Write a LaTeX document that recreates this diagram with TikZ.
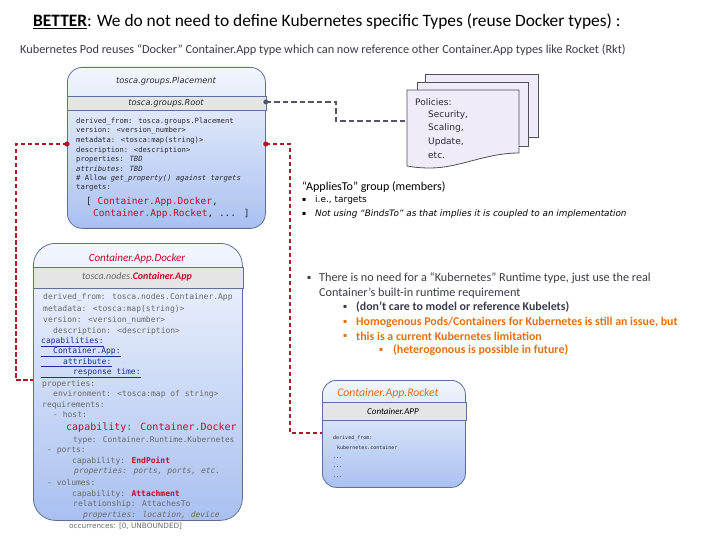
\documentclass[tikz,border=0pt]{standalone}
\usepackage{fontspec}
\setmainfont{Carlito}
\newfontfamily\code{DejaVu Sans Mono}
\newfontfamily\dv{DejaVu Sans}
\usetikzlibrary{calc}
\definecolor{boxedge}{HTML}{5E7099}
\definecolor{boxtop}{HTML}{F3F6FD}
\definecolor{boxbot}{HTML}{A9C0F0}
\definecolor{bandgray}{HTML}{E5E5E5}
\definecolor{redc}{HTML}{C00A2A}
\definecolor{redline}{HTML}{B01828}
\definecolor{grayline}{HTML}{55556A}
\definecolor{orangec}{HTML}{E4700F}
\definecolor{darktxt}{HTML}{3A3A4C}
\definecolor{codegray}{HTML}{686868}
\definecolor{codedark}{HTML}{2A2A30}
\definecolor{ulblue}{HTML}{1B2C9E}
\definecolor{pagefill}{HTML}{EFECF8}
\definecolor{pageedge}{HTML}{505058}
\newcommand\fsz[1]{\fontsize{#1}{#1}\selectfont}
\tikzset{
  txt/.style={inner sep=0pt, anchor=west},
  ctr/.style={inner sep=0pt, anchor=center},
  boxnode/.style={draw=boxedge, line width=0.8pt, top color=boxtop, bottom color=boxbot, anchor=north west, inner sep=0pt},
  band/.style={draw=boxedge, line width=0.6pt, fill=bandgray},
  reddash/.style={draw=redline, line width=1.8pt, dash pattern=on 4.5pt off 2.5pt},
  graydash/.style={draw=grayline, line width=1.8pt, dash pattern=on 5.5pt off 3pt},
  pcode/.style={txt, font=\code\fsz{7.2}, text=codedark},
  dcode/.style={txt, font=\code\fsz{8}, text=codegray},
  rcode/.style={txt, font=\code\fsz{5}, text=codedark},
  page/.style={draw=pageedge, line width=0.8pt, fill=pagefill},
  poltxt/.style={txt, font=\dv\fsz{9}, text=codedark}
}
\begin{document}
\begin{tikzpicture}[x=1pt,y=-1pt]
\useasboundingbox (0,0) rectangle (720,540);
% titles
\node[txt] (title) at (33,22) {\fsz{17.4}\underline{\textbf{BETTER}}: We do not need to define Kubernetes specific Types (reuse Docker types) :};
\node[txt, text=darktxt] (sub) at (20,50) {\fsz{12.3}Kubernetes Pod reuses “Docker” Container.App type which can now reference other Container.App types like Rocket (Rkt)};

% ---------- Placement box
\node[boxnode, rounded corners=15pt, minimum width=198pt, minimum height=161pt] (place) at (67,67) {};
\filldraw[band] (place.west |- 0,96) rectangle (place.east |- 0,110);
\node[ctr, font=\dv\itshape\fsz{8.3}, text=codedark] (placet) at (166,81) {tosca.groups.Placement};
\node[ctr, font=\dv\itshape\fsz{8.3}, text=codedark] (placeb) at (166,103) {tosca.groups.Root};
\node[pcode] (p1) at (76,122) {derived\_from: tosca.groups.Placement};
\node[pcode] (p2) at (76,131) {version: <version\_number>};
\node[pcode] (p3) at (76,141) {metadata: <tosca:map(string)>};
\node[pcode] (p4) at (76,151) {description: <description>};
\node[pcode] (p5) at (76,160) {properties: \textit{TBD}};
\node[pcode] (p6) at (76,169) {\textit{attributes}: \textit{TBD}};
\node[pcode] (p7) at (76,179) {\# Allow \textit{get\_property() against targets}};
\node[pcode] (p8) at (76,188) {targets:};
\node[pcode, font=\code\fsz{9.5}] (p9) at (86,202) {[ \textcolor{redc}{Container.App.Docker},};
\node[pcode, font=\code\fsz{9.5}] (p10) at (93,214) {\textcolor{redc}{Container.App.Rocket}, ... ]};

% ---------- Docker box
\node[boxnode, rounded corners=22pt, minimum width=209pt, minimum height=277pt] (dock) at (33,243) {};
\filldraw[band] (dock.west |- 0,267) rectangle (dock.east |- 0,288);
\node[ctr, font=\itshape\fsz{11}, text=redc] (dockt) at (137,259) {Container.App.Docker};
\node[ctr, font=\itshape\fsz{10}, text=codegray] (dockb) at (137,277) {tosca.nodes.\textcolor{redc}{\textbf{Container.App}}};
\node[dcode] (d1) at (43,297) {derived\_from: tosca.nodes.Container.App};
\node[dcode] (d2) at (43,309) {metadata: <tosca:map(string)>};
\node[dcode] (d3) at (43,320) {version: <version\_number>};
\node[dcode] (d4) at (53,331) {description: <description>};
\node[dcode, text=ulblue] (u1) at (41,341) {capabilities:};
\node[dcode, text=ulblue] (u2) at (41,351) {\hspace*{12pt}Container.App:};
\node[dcode, text=ulblue] (u3) at (41,362) {\hspace*{22pt}attribute:};
\node[dcode, text=ulblue] (u4) at (41,372) {\hspace*{32pt}response time:};
\foreach \u in {u1,u2,u3,u4} \draw[ulblue, line width=1.3pt] ([yshift=-1.2pt]\u.south west) -- ([yshift=-1.2pt]\u.south east);
\node[dcode] (d5) at (42,384) {properties:};
\node[dcode] (d6) at (53,394) {environment: <tosca:map of string>};
\node[dcode] (d7) at (42,405) {requirements:};
\node[dcode] (d8) at (53,415) {- host:};
\node[dcode, font=\code\fsz{10}, text=redc] (d9) at (66,428) {capability: Container.Docker};
\node[dcode, font=\code\fsz{7.8}] (d10) at (73,440) {type: Container.Runtime.Kubernetes};
\node[dcode] (d11) at (47,451) {- ports:};
\node[dcode] (d12) at (72,461) {capability: \textcolor{redc}{\textbf{EndPoint}}};
\node[dcode] (d13) at (74,471) {\textit{properties: ports, ports, etc.}};
\node[dcode] (d14) at (47,482) {- volumes:};
\node[dcode] (d15) at (72,494) {capability: \textcolor{redc}{\textbf{Attachment}}};
\node[dcode] (d16) at (73,504) {relationship: AttachesTo};
\node[dcode] (d17) at (83,515) {\textit{properties: location, device}};
\node[txt, font=\dv\fsz{7.3}, text=codegray] (occ) at (69,526) {occurrences: [0, UNBOUNDED]};

% ---------- Rocket box
\node[boxnode, rounded corners=14pt, minimum width=143pt, minimum height=107pt] (rock) at (322,380) {};
\filldraw[band] (rock.west |- 0,402) rectangle (rock.east |- 0,420);
\node[ctr, font=\itshape\fsz{11.7}, text=orangec] (rockt) at (388,393) {Container.App.Rocket};
\node[ctr, font=\itshape\fsz{9}, text=black] (rockb) at (393,411) {Container.APP};
\node[rcode] (r1) at (333,438) {derived\_from:};
\node[rcode] (r2) at (337,448) {kubernetes.container};
\node[rcode] (r3) at (333,458) {...};
\node[rcode] (r4) at (333,467) {...};
\node[rcode] (r5) at (333,477) {...};

% ---------- Policies documents
\filldraw[page] (425,74) rectangle (538,137);
\filldraw[page] (417,82) rectangle (528,146);
\filldraw[page] (407,90) -- (519,90) -- (519,153) .. controls (485,153) and (460,168) .. (430,168) .. controls (420,168) and (412,167) .. (407,166) -- cycle;
\node[inner sep=0pt, minimum width=112pt, minimum height=76pt, anchor=north west] (pol) at (407,90) {};
\node[poltxt] (pol1) at (415,102) {Policies:};
\node[poltxt] (pol2) at (428,115) {Security,};
\node[poltxt] (pol3) at (428,128) {Scaling,};
\node[poltxt] (pol4) at (428,142) {Update,};
\node[poltxt] (pol5) at (428,155) {etc.};

% ---------- AppliesTo text
\node[txt, font=\fsz{12}] (ap0) at (302,187) {“AppliesTo” group (members)};
\node[txt, font=\dv\fsz{6}] (apb1) at (302,200) {▪};
\node[txt, font=\dv\fsz{9}] (ap1) at (315,200) {i.e., targets};
\node[txt, font=\dv\fsz{6}] (apb2) at (302,214) {▪};
\node[txt, font=\dv\itshape\fsz{8.85}] (ap2) at (315,214) {Not using “BindsTo” as that implies it is coupled to an implementation};

% ---------- right bullets
\node[txt, font=\dv\fsz{6}, text=darktxt] (bb1) at (307,278) {▪};
\node[txt, font=\fsz{12.2}, text=darktxt] (b1) at (319,278) {There is no need for a “Kubernetes” Runtime type, just use the real};
\node[txt, font=\fsz{12.2}, text=darktxt] (b1b) at (319,293) {Container’s built-in runtime requirement};
\node[txt, font=\dv\fsz{6}, text=darktxt] (bb2) at (343,307) {▪};
\node[txt, font=\bfseries\fsz{11.9}, text=darktxt] (b2) at (356,307) {(don’t care to model or reference Kubelets)};
\node[txt, font=\dv\fsz{6}, text=orangec] (bb3) at (343,322) {▪};
\node[txt, font=\bfseries\fsz{11.9}, text=orangec] (b3) at (356,322) {Homogenous Pods/Containers for Kubernetes is still an issue, but};
\node[txt, font=\dv\fsz{6}, text=orangec] (bb4) at (343,336) {▪};
\node[txt, font=\bfseries\fsz{11.9}, text=orangec] (b4) at (356,336) {this is a current Kubernetes limitation};
\node[txt, font=\dv\fsz{6}, text=orangec] (bb5) at (379,350) {▪};
\node[txt, font=\bfseries\fsz{11.9}, text=orangec] (b5) at (393,350) {(heterogonous is possible in future)};

% ---------- connectors
\coordinate (gs) at ($(place.north east)+(0,35)$);
\coordinate (pe) at ($(pol.north west)+(0,31)$);
\draw[graydash] (gs) -- (336,102) -- (336,121) -- (pe);
\fill[grayline] (gs) circle (2.5pt);

\coordinate (rs) at ($(place.north east)+(0,77)$);
\coordinate (re) at ($(rock.north west)+(0,53)$);
\draw[reddash] (rs) -- (290,144) -- (290,433) -- (re);
\fill[redline] (rs) circle (2.6pt);

\coordinate (ls) at ($(place.north west)+(0,77)$);
\coordinate (le) at ($(dock.north west)+(0,137)$);
\draw[reddash] (ls) -- (16,144) -- (16,380) -- (le);
\fill[redline] (ls) circle (2.6pt);
\end{tikzpicture}
\end{document}
